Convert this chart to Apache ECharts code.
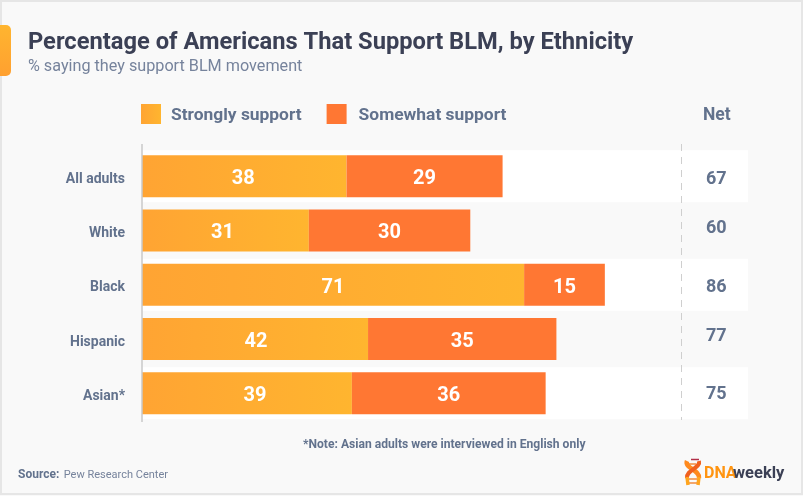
<!DOCTYPE html>
<html>
<head>
<meta charset="utf-8">
<title>Percentage of Americans That Support BLM, by Ethnicity</title>
<style>
    html, body { margin: 0; padding: 0; background: #f9f9f9; }
    #main { width: 803px; height: 496px; }
</style>
<script src="https://cdn.jsdelivr.net/npm/echarts@6/dist/echarts.min.js"></script>
</head>
<body>
<div id="main"></div>
<script>
var categories = ['All adults', 'White', 'Black', 'Hispanic', 'Asian*'];
var stronglySupport = [38, 31, 71, 42, 39];
var somewhatSupport = [29, 30, 15, 35, 36];
var netSupport = [67, 60, 86, 77, 75];
var stripedRows = ['All adults', 'Black', 'Asian*'];

// x axis runs across the whole card, the net column sits past the bars
var xMax = 112.6;
var netColumnX = 106.7;

var fontName = 'Roboto';
var slate = '#62728d';
var dark = '#3b4055';
var textNudge = 3;

// some figures do not sit quite centred in the original
var netNudge = [3, -2, 3, -3, 1];
var strongNudge = [-1, -3, 0, 1, 8];

var chart = echarts.init(document.getElementById('main'), null, { renderer: 'canvas' });

var orangeGradient = new echarts.graphic.LinearGradient(0, 0, 1, 0, [
    { offset: 0, color: '#ffa433' },
    { offset: 1, color: '#ffb52f' }
]);

var barLabel = {
    show: true,
    position: 'inside',
    offset: [0, textNudge],
    fontFamily: fontName,
    fontSize: 20,
    fontWeight: 'bold',
    color: '#ffffff'
};

var legendText = { fontFamily: fontName, fontSize: 17.4, fontWeight: 'bold', color: slate };

var option = {
    animation: false,
    backgroundColor: '#f9f9f9',
    textStyle: { fontFamily: fontName },
    title: [
        {
            text: 'Percentage of Americans That Support BLM, by Ethnicity',
            left: 23, top: 26,
            textStyle: { fontFamily: fontName, fontSize: 23.7, fontWeight: 'bold', color: dark }
        },
        {
            text: '% saying they support BLM movement',
            left: 23, top: 54,
            textStyle: { fontFamily: fontName, fontSize: 16.2, fontWeight: 'normal', color: '#76839c' }
        },
        {
            text: 'Net',
            left: 698, top: 102,
            textStyle: { fontFamily: fontName, fontSize: 17.5, fontWeight: 'bold', color: slate }
        },
        {
            text: '*Note: Asian adults were interviewed in English only',
            left: 298, top: 434,
            textStyle: { fontFamily: fontName, fontSize: 12.1, fontWeight: 'bold', color: slate }
        },
        {
            text: '{b|Source:} {r|Pew Research Center}',
            left: 13, top: 461,
            textStyle: {
                rich: {
                    b: { fontFamily: fontName, fontSize: 12, fontWeight: 'bold', color: slate },
                    r: { fontFamily: fontName, fontSize: 11, fontWeight: 'normal', color: '#76839c' }
                }
            }
        }
    ],
    legend: {
        left: 136,
        top: 99,
        itemWidth: 20,
        itemHeight: 20,
        itemGap: 25,
        icon: 'rect',
        data: ['Strongly support', 'Somewhat support'],
        selectedMode: false,
        formatter: function (name) {
            return (name === 'Strongly support' ? '{a|' : '{b|') + name + '}';
        },
        textStyle: {
            rich: {
                a: Object.assign({ padding: [4, 0, 0, 5] }, legendText),
                b: Object.assign({ padding: [4, 0, 0, 7] }, legendText)
            }
        }
    },
    grid: { left: 142, right: 55, top: 149, height: 271.5 },
    xAxis: { type: 'value', min: 0, max: xMax, show: false },
    yAxis: [
        {
            type: 'category',
            data: categories,
            inverse: true,
            axisLine: { show: false },
            axisTick: { show: false },
            splitLine: { show: false },
            axisLabel: {
                margin: 17,
                formatter: '{a|{value}}',
                rich: {
                    a: { padding: [6, 0, 0, 0], fontFamily: fontName, fontSize: 14, fontWeight: 'bold', color: slate }
                }
            }
        },
        {
            type: 'category',
            data: categories,
            inverse: true,
            show: false
        }
    ],
    series: [
        {
            name: 'rows',
            type: 'bar',
            yAxisIndex: 1,
            barWidth: 52,
            z: 1,
            silent: true,
            itemStyle: { color: '#ffffff' },
            data: categories.map(function (c) {
                return stripedRows.indexOf(c) >= 0 ? xMax : null;
            })
        },
        {
            name: 'Strongly support',
            type: 'bar',
            stack: 'support',
            barWidth: 42,
            z: 3,
            itemStyle: { color: orangeGradient },
            label: barLabel,
            data: stronglySupport.map(function (v, i) {
                return { value: v, label: { offset: [strongNudge[i], textNudge] } };
            })
        },
        {
            name: 'Somewhat support',
            type: 'bar',
            stack: 'support',
            barWidth: 42,
            z: 3,
            itemStyle: { color: '#ff7733' },
            label: barLabel,
            data: somewhatSupport
        },
        {
            name: 'Net',
            type: 'scatter',
            symbolSize: 0,
            z: 4,
            silent: true,
            itemStyle: { opacity: 1 },
            label: {
                show: true,
                position: 'inside',
                opacity: 1,
                fontFamily: fontName,
                fontSize: 18,
                fontWeight: 'bold',
                color: slate,
                formatter: function (p) { return netSupport[p.dataIndex]; }
            },
            data: categories.map(function (c, i) {
                return { value: [netColumnX, c], label: { offset: [0, netNudge[i]] } };
            })
        }
    ],
    graphic: [
        // card border
        { type: 'rect', z: 0, shape: { x: 1, y: 1, width: 801, height: 493 }, style: { fill: 'none', stroke: '#e6e6e6', lineWidth: 2 } },
        // tab on the left edge
        {
            type: 'rect', z: 5,
            shape: { x: -8, y: 25, width: 19, height: 51, r: 5 },
            style: { fill: new echarts.graphic.LinearGradient(0, 0, 0, 1, [
                { offset: 0, color: '#ffb52f' }, { offset: 1, color: '#ffa030' }
            ]) }
        },
        // axis line and net divider
        { type: 'line', z: 5, shape: { x1: 142, y1: 144, x2: 142, y2: 422 }, style: { stroke: '#c9c9c9', lineWidth: 1.5 } },
        { type: 'line', z: 5, shape: { x1: 681.5, y1: 144, x2: 681.5, y2: 420 }, style: { stroke: '#cfcfcf', lineWidth: 1, lineDash: [7, 6] } },
        // logo
        {
            type: 'group', z: 5,
            children: [
                { type: 'line', shape: { x1: 689, y1: 479, x2: 697, y2: 479 }, style: { stroke: '#f08a3c', lineWidth: 1.5 } },
                { type: 'line', shape: { x1: 688, y1: 483, x2: 697, y2: 483 }, style: { stroke: '#f08a3c', lineWidth: 1.5 } },
                { type: 'line', shape: { x1: 689, y1: 464, x2: 696, y2: 464 }, style: { stroke: '#f08a3c', lineWidth: 1.5 } },
                { type: 'bezierCurve', shape: { x1: 687, y1: 461, cpx1: 684, cpy1: 468, cpx2: 700, cpy2: 470, x2: 699, y2: 478 }, style: { fill: 'none', stroke: '#ff8a1e', lineWidth: 4.5 } },
                { type: 'bezierCurve', shape: { x1: 699, y1: 461, cpx1: 701, cpy1: 468, cpx2: 686, cpy2: 470, x2: 687, y2: 478 }, style: { fill: 'none', stroke: '#f0601f', lineWidth: 4 } },
                { type: 'line', shape: { x1: 687, y1: 477, x2: 688, y2: 485 }, style: { stroke: '#ffa51e', lineWidth: 3.5 } },
                { type: 'line', shape: { x1: 699, y1: 477, x2: 698, y2: 485 }, style: { stroke: '#ffa51e', lineWidth: 3.5 } },
                { type: 'line', shape: { x1: 691, y1: 459.5, x2: 699, y2: 459.5 }, style: { stroke: '#b2304a', lineWidth: 1.5 } },
                {
                    type: 'text', x: 704, y: 465,
                    style: {
                        text: '{d|DNA}{w|weekly}',
                        rich: {
                            d: { fontFamily: fontName, fontSize: 16, fontWeight: 'bold', fill: '#ff9410', width: 29 },
                            w: { fontFamily: fontName, fontSize: 16.5, fontWeight: 'bold', fill: dark }
                        }
                    }
                }
            ]
        }
    ]
};

chart.setOption(option);
</script>
</body>
</html>
